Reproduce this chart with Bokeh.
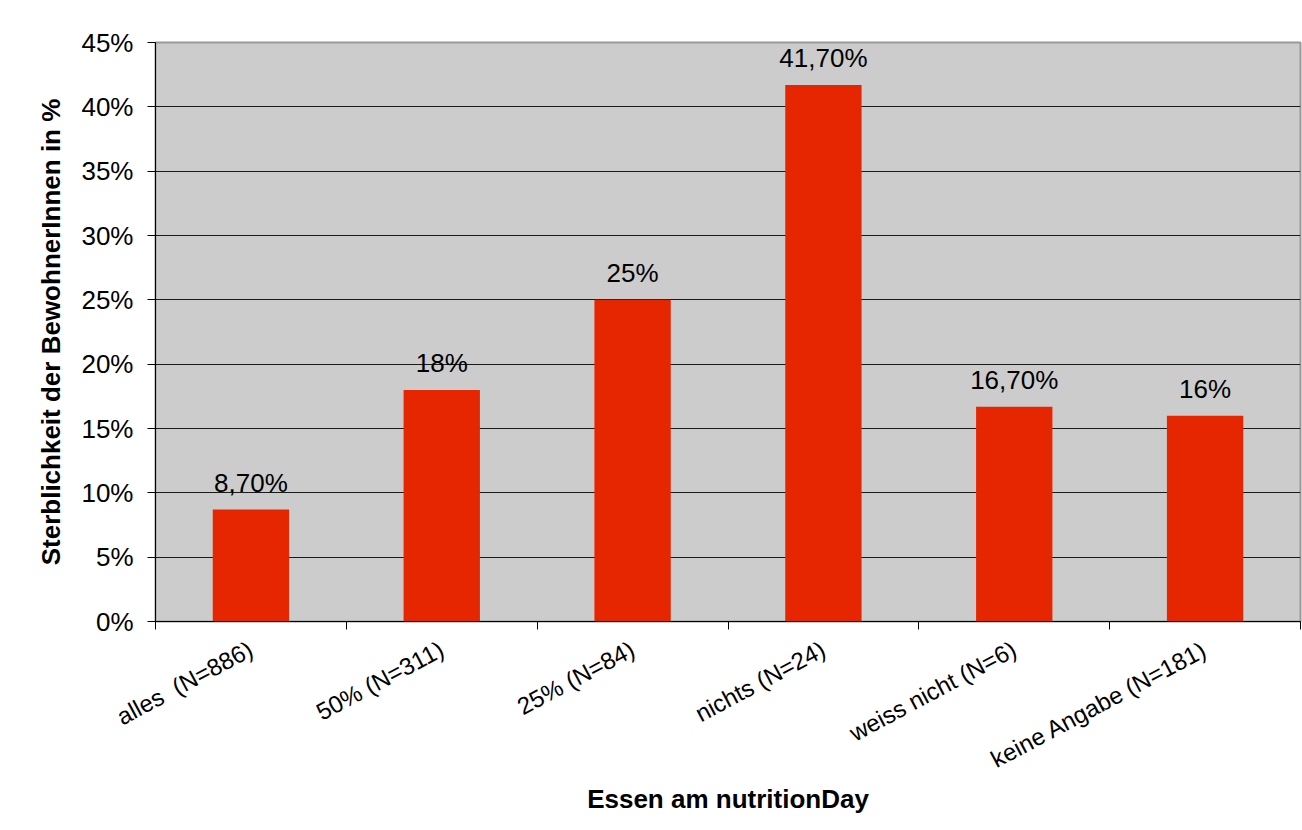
from bokeh.plotting import figure
from bokeh.models import FixedTicker, PrintfTickFormatter, Range1d, ColumnDataSource
from bokeh.core.properties import value
from bokeh.embed import file_html
from bokeh.resources import INLINE

categories = ["alles\u00a0 (N=886)", "50% (N=311)", "25% (N=84)", "nichts (N=24)",
              "weiss nicht (N=6)", "keine Angabe (N=181)"]
mortality = [8.7, 18, 25, 41.7, 16.7, 16]
value_labels = ["8,70%", "18%", "25%", "41,70%", "16,70%", "16%"]
y_ticks = [0, 5, 10, 15, 20, 25, 30, 35, 40, 45]

FONT = "Liberation Sans"
xpos = [i + 0.5 for i in range(len(categories))]
src = ColumnDataSource(dict(x=xpos, top=mortality, lab=value_labels))

p = figure(width=1302, height=830, output_backend="svg", toolbar_location=None,
           x_range=Range1d(0, len(categories)), y_range=Range1d(0, 45),
           min_border_left=155, min_border_right=2, min_border_top=42, min_border_bottom=209)
p.background_fill_color = "#CCCCCC"
p.border_fill_color = "white"
p.outline_line_color = "#999999"
p.outline_line_width = 2

p.vbar(x="x", top="top", width=0.4, source=src, fill_color="#E52600", line_color=None)
p.text(x="x", y="top", text="lab", source=src, text_align="center", text_baseline="bottom",
       y_offset=-12, text_font=value(FONT), text_font_size="26px", text_color="black")

# y axis
p.yaxis.ticker = FixedTicker(ticks=y_ticks)
p.yaxis.formatter = PrintfTickFormatter(format="%d%%")
p.yaxis.major_label_text_font = FONT
p.yaxis.major_label_text_font_size = "26px"
p.yaxis.major_label_text_color = "black"
p.yaxis.major_tick_out = 8
p.yaxis.major_tick_in = 0
p.yaxis.minor_tick_line_color = None
p.yaxis.major_label_standoff = 14
p.yaxis.axis_line_color = "black"
p.yaxis.major_tick_line_color = "black"
p.yaxis.axis_label = "Sterblichkeit der BewohnerInnen in %"
p.yaxis.axis_label_text_font = FONT
p.yaxis.axis_label_text_font_style = "bold"
p.yaxis.axis_label_text_font_size = "26px"
p.yaxis.axis_label_text_color = "black"
p.yaxis.axis_label_standoff = 12

# x axis
p.xaxis.ticker = FixedTicker(ticks=xpos, minor_ticks=list(range(len(categories) + 1)))
p.xaxis.major_label_overrides = {x: c for x, c in zip(xpos, categories)}
p.xaxis.major_label_orientation = 0.49
p.xaxis.major_label_text_font = FONT
p.xaxis.major_label_text_font_size = "24px"
p.xaxis.major_label_text_color = "black"
p.xaxis.major_tick_line_color = None
p.xaxis.minor_tick_out = 8
p.xaxis.minor_tick_in = 0
p.xaxis.minor_tick_line_color = "black"
p.xaxis.axis_line_color = "black"
p.xaxis.major_label_standoff = 18
p.xaxis.axis_label = "Essen am nutritionDay"
p.xaxis.axis_label_text_font = FONT
p.xaxis.axis_label_text_font_style = "bold"
p.xaxis.axis_label_text_font_size = "26px"
p.xaxis.axis_label_text_color = "black"
p.xaxis.axis_label_standoff = -4

p.xgrid.grid_line_color = None
p.ygrid.grid_line_color = "#1a1a1a"
p.ygrid.grid_line_width = 1
p.ygrid.ticker = FixedTicker(ticks=y_ticks)

open("out.html", "w").write(file_html(p, INLINE))
